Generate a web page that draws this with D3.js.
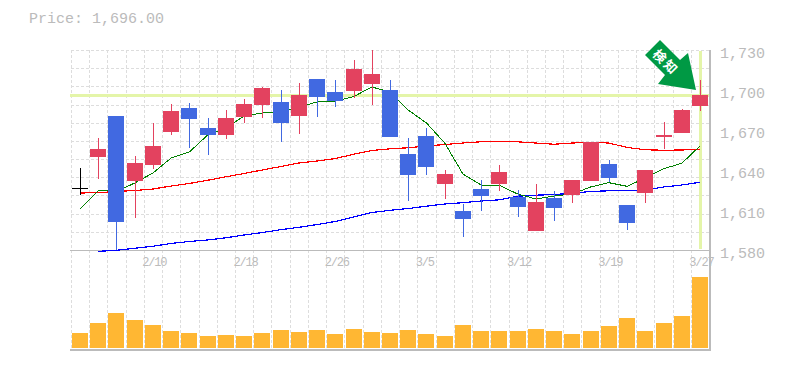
<!DOCTYPE html>
<html>
<head>
<meta charset="utf-8">
<script src="https://cdn.jsdelivr.net/npm/d3@7"></script>
<style>
  html, body { margin: 0; padding: 0; background: #fff; overflow: hidden; }
  text { font-family: "Liberation Mono", monospace; fill: #bbb; }
</style>
</head>
<body>
<div id="chart"></div>
<script>
// daily candles
const opens = [1626.5, 1649.75, 1680.5, 1631.75, 1643.75, 1668.5, 1686.5, 1671.5, 1666.25, 1679.75, 1688.75, 1691, 1680.5, 1708.25, 1698.5, 1699.25, 1704.5, 1700, 1652, 1665.5, 1629.5, 1609.25, 1625.75, 1629.5, 1619.75, 1594.25, 1619, 1621.25, 1631.75, 1644.5, 1613.75, 1622.75, 1664.75, 1667.75, 1688];
const closes = [1626.5, 1655.75, 1601, 1645.25, 1658, 1684.25, 1678.25, 1666.25, 1679, 1689.5, 1701.5, 1675.25, 1696.25, 1694.75, 1691.75, 1715.75, 1712, 1664.75, 1636.25, 1642.25, 1637, 1603.25, 1620.5, 1638.5, 1612.25, 1616, 1611.5, 1632.5, 1661, 1634, 1600.25, 1640, 1666.25, 1685, 1696];
const highs = [1641.5, 1664, 1680.5, 1650.5, 1675.25, 1689.5, 1690.25, 1679, 1685, 1693.25, 1702.25, 1700, 1705.25, 1708.25, 1707.5, 1722.5, 1730, 1707.5, 1664, 1671.5, 1640, 1614.5, 1632.5, 1643.75, 1625, 1629.5, 1624.25, 1632.5, 1661, 1647.5, 1613.75, 1640, 1676, 1685.75, 1707.5];
const lows = [1621.25, 1633.25, 1580, 1604, 1640.75, 1666.25, 1656.5, 1651.25, 1663.25, 1675.25, 1679, 1661, 1667, 1679.75, 1687.25, 1694, 1688.75, 1664.75, 1616.75, 1636.25, 1618.25, 1589.75, 1609.25, 1624.25, 1604.75, 1594.25, 1601.75, 1615.25, 1631.75, 1631, 1595, 1615.25, 1655.75, 1667.75, 1684.25];
const volumes = [15, 25, 35, 28, 23, 17, 15, 12, 13, 12, 15, 18, 16, 18, 14, 19, 16, 15, 18, 14, 12, 23, 17, 17, 17, 19, 17, 14, 17, 22, 30, 17, 25, 32, 71];

// moving averages, blue one starts a day later
const maShort = [1610.75, 1624.63, 1623.88, 1630.25, 1637.75, 1649, 1653.5, 1666.25, 1671.5, 1680.5, 1682.75, 1683, 1687.25, 1691, 1691.75, 1695, 1702.25, 1698.5, 1685, 1675.25, 1660.25, 1637, 1628.75, 1628.5, 1622, 1618.25, 1620.5, 1622, 1627.25, 1630.5, 1627.75, 1634, 1641, 1645, 1658];
const maMid = [1622.75, 1623, 1623.9, 1624.6, 1625.75, 1628, 1629.9, 1632.3, 1634.9, 1637.4, 1640, 1642.6, 1645.25, 1646.75, 1648.6, 1651.8, 1654.6, 1655.9, 1656.65, 1658, 1659.1, 1660.25, 1661.2, 1661.6, 1661.15, 1660.25, 1659.3, 1660.25, 1660.8, 1660.25, 1656.9, 1655.2, 1654.8, 1655, 1655.5];
const maLong = [null, 1579, 1579.75, 1581.3, 1582.8, 1584.9, 1586.4, 1587.5, 1589.15, 1591.25, 1593.1, 1595.2, 1597, 1599.1, 1601.4, 1604.75, 1608.1, 1609.75, 1611.1, 1612.85, 1614.5, 1615.5, 1616.75, 1617.65, 1620.35, 1621.1, 1621.6, 1622.6, 1623.9, 1624.4, 1624.75, 1625, 1627.25, 1628.75, 1630.8];

const priceTicks = [1730, 1700, 1670, 1640, 1610, 1580];
const dateIndexes = [4, 9, 14, 19, 24, 29, 34];
const dateLabels = ["2/10", "2/18", "2/26", "3/5", "3/12", "3/19", "3/27"];
const signalLabel = "検知";

const colorUp = "#e3425f", colorDown = "#4169e1", colorFlat = "#000";
const days = d3.range(opens.length);

const width = 785, height = 370;
const svg = d3.select("#chart").append("svg")
    .attr("width", width)
    .attr("height", height)
    .style("display", "block");

// scales
const x = d3.scaleBand().domain(days).range([70.9, 709.1]);
const y = d3.scaleLinear().domain([1580, 1730]).range([250, 50]);
const v = d3.scaleLinear().domain([0, 100]).range([348, 248]);
const cx = i => Math.round(x(i) + x.step() / 2);
const py = p => Math.round(y(p));

// dotted grid behind everything
const grid = svg.append("g")
    .attr("stroke", "#ddd")
    .attr("stroke-dasharray", "3,2")
    .attr("shape-rendering", "crispEdges");
grid.selectAll(".gv").data(days).enter().append("line")
    .attr("x1", d => Math.round(x(d)) + 0.5)
    .attr("x2", d => Math.round(x(d)) + 0.5)
    .attr("y1", 50)
    .attr("y2", 350);
grid.selectAll(".gh").data(d3.range(12)).enter().append("line")
    .attr("x1", 71)
    .attr("x2", 709)
    .attr("y1", d => Math.round(50 + d * 200 / 11) + 0.5)
    .attr("y2", d => Math.round(50 + d * 200 / 11) + 0.5);

// last price marker
const lastPrice = closes[closes.length - 1];
const lastDay = days[days.length - 1];
svg.append("line")
    .attr("x1", 70).attr("x2", 709)
    .attr("y1", py(lastPrice) + 0.5).attr("y2", py(lastPrice) + 0.5)
    .attr("stroke", "#e4f5a9").attr("stroke-width", 3)
    .attr("shape-rendering", "crispEdges");
svg.append("line")
    .attr("x1", cx(lastDay) + 0.5).attr("x2", cx(lastDay) + 0.5)
    .attr("y1", 51).attr("y2", 249)
    .attr("stroke", "#e4f5a9").attr("stroke-width", 3)
    .attr("shape-rendering", "crispEdges");

// panel frame
const frame = svg.append("g").attr("stroke", "#bbb").attr("shape-rendering", "crispEdges");
frame.append("line").attr("x1", 70).attr("x2", 710).attr("y1", 250.5).attr("y2", 250.5);
frame.append("line").attr("x1", 70).attr("x2", 711).attr("y1", 350).attr("y2", 350).attr("stroke-width", 2);
frame.append("line").attr("x1", 710).attr("x2", 710).attr("y1", 50).attr("y2", 351).attr("stroke-width", 2);

// moving averages
const maLine = d3.line()
    .defined(d => d !== null)
    .x((d, i) => x(i) + x.step() / 2)
    .y(d => y(d));
[[maLong, "#0000ff", 1.2], [maMid, "#ff0000", 1.2], [maShort, "#008000", 1]].forEach(function (item) {
    svg.append("path")
        .datum(item[0])
        .attr("fill", "none")
        .attr("stroke", item[1])
        .attr("stroke-width", item[2])
        .attr("shape-rendering", "crispEdges")
        .attr("d", maLine);
});

// candles
const candleColor = i => closes[i] > opens[i] ? colorUp : closes[i] < opens[i] ? colorDown : colorFlat;
const candles = svg.append("g").attr("shape-rendering", "crispEdges");
candles.selectAll(".wick").data(days).enter().append("line")
    .attr("x1", d => cx(d) + 0.5)
    .attr("x2", d => cx(d) + 0.5)
    .attr("y1", d => py(highs[d]))
    .attr("y2", d => py(lows[d]))
    .attr("stroke", candleColor);
candles.selectAll(".body").data(days).enter().append("rect")
    .attr("x", d => cx(d) - 8)
    .attr("width", 16)
    .attr("y", d => py(Math.max(opens[d], closes[d])))
    .attr("height", d => Math.max(1, py(Math.min(opens[d], closes[d])) - py(Math.max(opens[d], closes[d]))))
    .attr("fill", candleColor);

// volume bars
svg.append("g").selectAll("rect").data(days).enter().append("rect")
    .attr("x", d => cx(d) - 8)
    .attr("width", 16)
    .attr("y", d => v(volumes[d]))
    .attr("height", d => v(0) - v(volumes[d]))
    .attr("fill", "#ffb733")
    .attr("shape-rendering", "crispEdges");

// price labels on the right
const yAxis = svg.append("g")
    .attr("transform", "translate(720,0)")
    .call(d3.axisRight(y).tickValues(priceTicks).tickFormat(d3.format(",")).tickSize(0).tickPadding(0));
yAxis.select(".domain").remove();
yAxis.selectAll("text")
    .attr("dy", 7)
    .style("font-family", '"Liberation Mono", monospace')
    .style("font-size", "15px");

// date labels start at the left edge of their day
const xAxis = svg.append("g")
    .attr("transform", "translate(0,250)")
    .call(d3.axisBottom(x).tickValues(dateIndexes).tickFormat((d, i) => dateLabels[i]).tickSize(0).tickPadding(0));
xAxis.select(".domain").remove();
xAxis.selectAll("text")
    .attr("text-anchor", "start")
    .attr("x", -x.step() / 2 - 1.5)
    .attr("y", 0)
    .attr("dy", 16)
    .style("font-family", '"Liberation Mono", monospace')
    .style("font-size", "12px")
    .style("letter-spacing", "-1.2px");

// current price header
svg.append("text")
    .attr("x", 29)
    .attr("y", 23)
    .style("font-size", "15px")
    .text("Price: " + d3.format(",.2f")(lastPrice));

// green signal arrow, placed relative to the last candle
const arrow = svg.append("g")
    .attr("transform", `translate(${cx(lastDay)},${py(lastPrice)})`);
arrow.append("path")
    .attr("d", "M-40,-55L-20,-35L-12,-42L-4,-5L-42,-11L-35,-20L-55,-40Z")
    .attr("fill", "#009944");
arrow.append("text")
    .attr("transform", "translate(-34,-33) rotate(45)")
    .attr("text-anchor", "middle")
    .attr("dy", 5)
    .style("font-family", '"Noto Sans CJK JP"')
    .style("font-weight", 700)
    .style("font-size", "13px")
    .style("letter-spacing", "2px")
    .style("fill", "#fff")
    .text(signalLabel);
</script>
</body>
</html>
